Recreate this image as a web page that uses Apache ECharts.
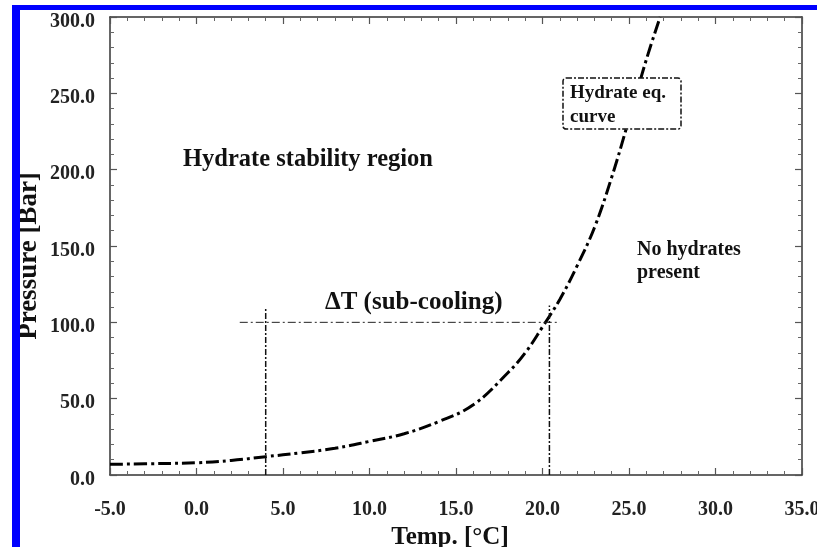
<!DOCTYPE html>
<html>
<head>
<meta charset="utf-8">
<script src="https://cdn.jsdelivr.net/npm/echarts@6/dist/echarts.min.js"></script>
<style>
  html, body { margin: 0; padding: 0; background: #fff; }
  #chart { width: 817px; height: 547px; }
</style>
</head>
<body>
<div id="chart"></div>
<script>
// hydrate equilibrium curve
var temps = [-5, -2, 0, 2, 4, 6, 8, 10, 12, 14, 16, 18, 19, 20, 21, 22, 23, 24, 25, 26, 26.8];
var pressures = [7, 7.5, 8, 9.5, 12, 14.5, 17.5, 22, 27, 35, 46, 67, 80, 97, 115, 137, 162, 195, 233, 272, 300];

// sub-cooling guide lines
var subcoolT = [2.5, 21];
var subcoolP = [100, 100];
var leftGuideT = [4, 4];
var leftGuideP = [0, 110];
var rightGuideT = [20.4, 20.4];
var rightGuideP = [0, 111];

var FONT = '"Liberation Serif", "DejaVu Serif", serif';

var pairs = function (xs, ys) {
    var out = [];
    for (var i = 0; i < xs.length; i++) {
        out.push([xs[i], ys[i]]);
    }
    return out;
};

var axisBase = function (pos, min, max, interval, showLabel) {
    return {
        type: 'value',
        position: pos,
        min: min,
        max: max,
        interval: interval,
        splitLine: { show: false },
        axisLine: { show: true, onZero: false, lineStyle: { color: '#333', width: 1.5 } },
        axisTick: { show: true, inside: true, length: 7, lineStyle: { color: '#555', width: 1.2 } },
        minorTick: { show: true, splitNumber: 5, length: 4, lineStyle: { color: '#666', width: 1 } },
        axisLabel: {
            show: showLabel,
            color: '#222',
            fontFamily: FONT,
            fontWeight: 'bold',
            fontSize: 20,
            formatter: function (v) { return v.toFixed(1); }
        }
    };
};

var myChart = echarts.init(document.getElementById('chart'), null, { renderer: 'canvas' });

var xMain = axisBase('bottom', -5, 35, 5, true);
xMain.axisLabel.margin = 25;
xMain.name = 'Temp. [\u00b0C]';
xMain.nameLocation = 'middle';
xMain.nameGap = 50;
xMain.nameTextStyle = { color: '#111', fontFamily: FONT, fontWeight: 'bold', fontSize: 25, padding: [0, 12, 0, 0] };

var yMain = axisBase('left', 0, 300, 50, true);
yMain.axisLabel.margin = 15;
// labels sit a little below their ticks in the original
yMain.axisLabel.verticalAlign = 'top';
yMain.axisLabel.lineHeight = 9;

var guideStyle = { color: '#111', width: 1.5, type: [6, 2, 2, 2] };

myChart.setOption({
    animation: false,
    backgroundColor: '#fff',
    grid: { left: 110, right: 15, top: 17, bottom: 72, outerBoundsMode: 'none' },
    xAxis: [xMain, axisBase('top', -5, 35, 5, false)],
    yAxis: [yMain, axisBase('right', 0, 300, 50, false)],
    series: [
        {
            name: 'Hydrate eq. curve',
            type: 'line',
            data: pairs(temps, pressures),
            smooth: 0.4,
            symbol: 'none',
            lineStyle: { color: '#000', width: 3, type: [13, 4, 3, 4] }
        },
        {
            type: 'line',
            data: pairs(subcoolT, subcoolP),
            symbol: 'none',
            lineStyle: { color: '#222', width: 1, type: [8, 3, 2, 3] }
        },
        {
            type: 'line',
            data: pairs(leftGuideT, leftGuideP),
            symbol: 'none',
            lineStyle: guideStyle
        },
        {
            type: 'line',
            data: pairs(rightGuideT, rightGuideP),
            symbol: 'none',
            lineStyle: guideStyle
        }
    ],
    graphic: [
        // blue frame of the scanned figure
        { type: 'rect', shape: { x: 12, y: 5, width: 805, height: 5 }, style: { fill: '#0000ff' }, z: 100 },
        { type: 'rect', shape: { x: 12, y: 5, width: 8, height: 542 }, style: { fill: '#0000ff' }, z: 100 },
        // y axis title, placed by hand so it clears the blue frame
        {
            type: 'text', x: 29, y: 256, rotation: Math.PI / 2,
            style: {
                text: 'Pressure [Bar]', font: 'bold 27px ' + FONT, fill: '#111',
                align: 'center', verticalAlign: 'middle'
            }
        },
        {
            type: 'text', left: 183, top: 147,
            style: { text: 'Hydrate stability region', font: 'bold 24.5px ' + FONT, fill: '#111' }
        },
        {
            type: 'text', left: 325, top: 290,
            style: { text: '\u0394T (sub-cooling)', font: 'bold 25px ' + FONT, fill: '#111' }
        },
        {
            type: 'text', left: 637, top: 238,
            style: { text: 'No hydrates\npresent', font: 'bold 20px ' + FONT, fill: '#111', lineHeight: 23 }
        },
        {
            type: 'rect', z: 50,
            shape: { x: 563, y: 78, width: 118, height: 51, r: 3 },
            style: { fill: '#fff', stroke: '#111', lineWidth: 1.5, lineDash: [6, 2, 2, 2] }
        },
        {
            type: 'text', left: 570, top: 81, z: 51,
            style: { text: 'Hydrate eq.\ncurve', font: 'bold 19px ' + FONT, fill: '#111', lineHeight: 24 }
        }
    ]
});
</script>
</body>
</html>
